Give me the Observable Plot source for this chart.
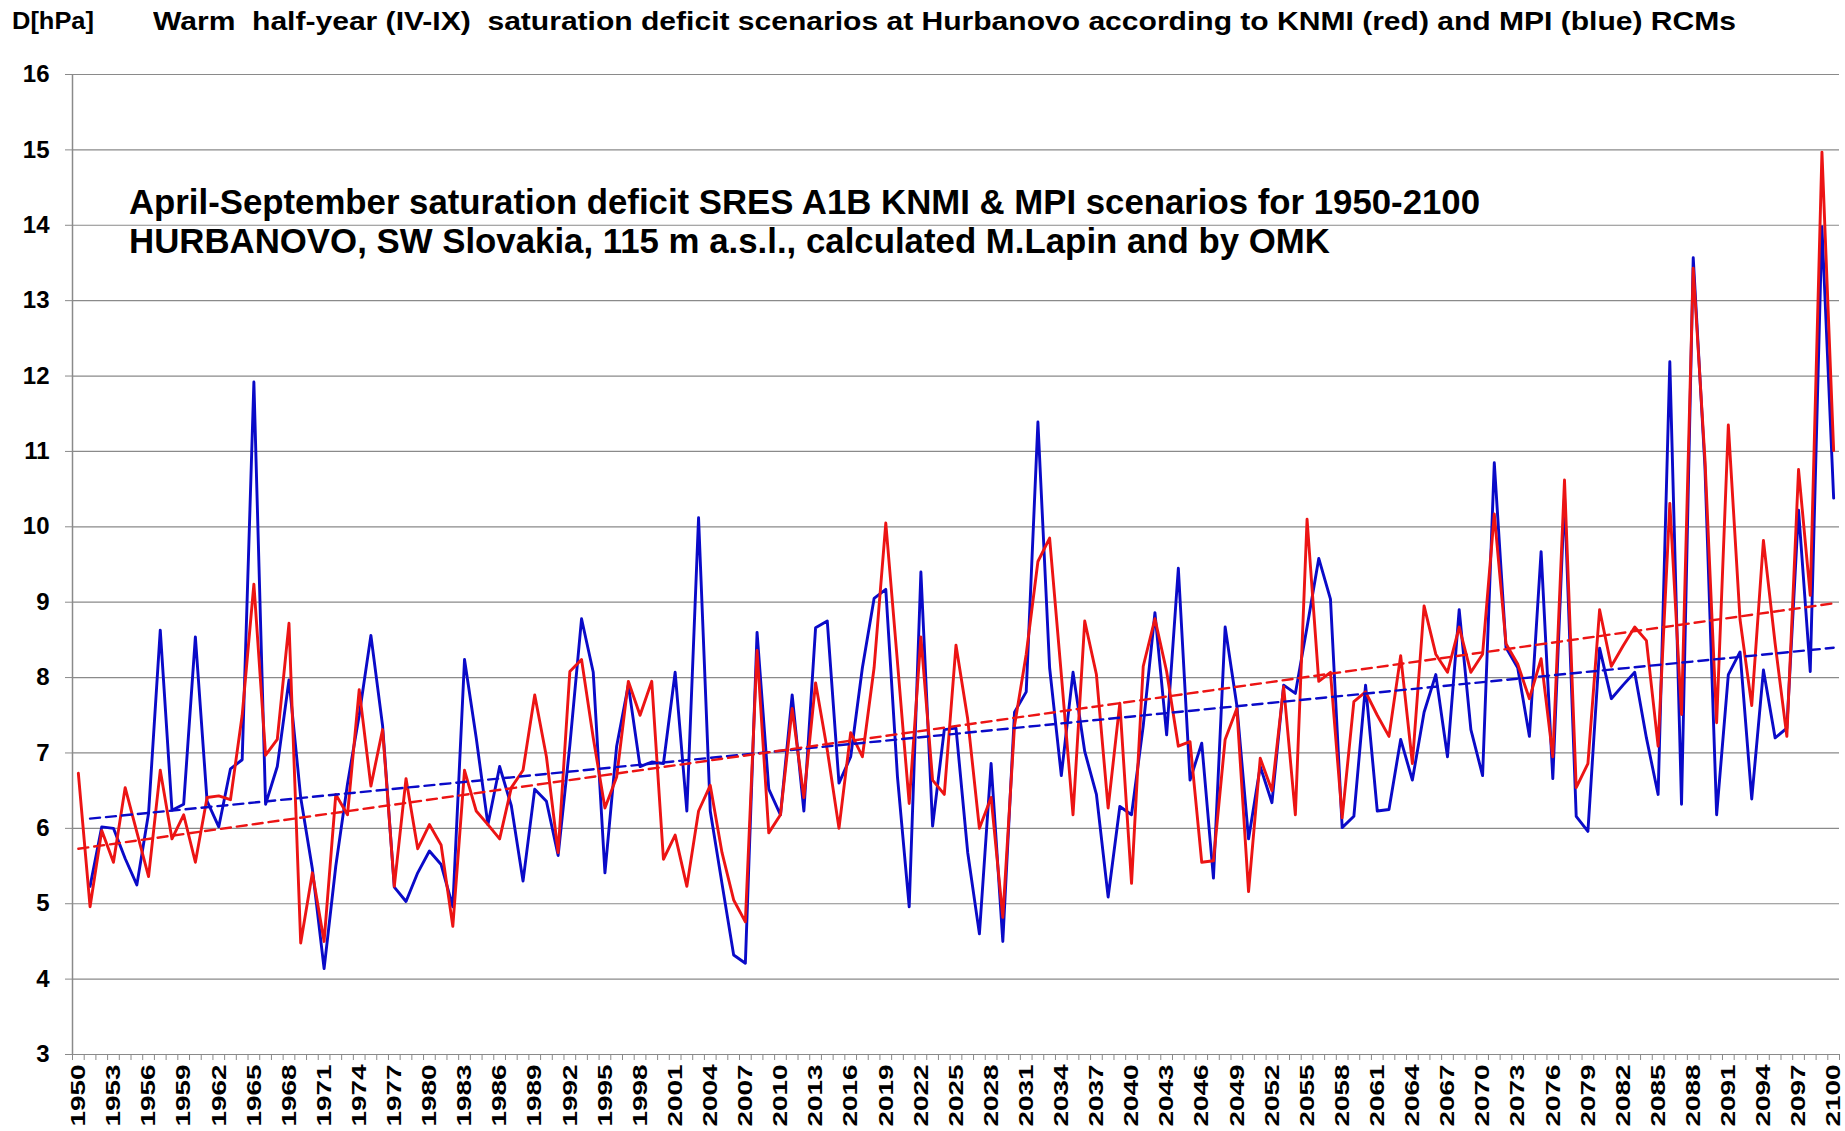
<!DOCTYPE html>
<html><head><meta charset="utf-8">
<script src="https://cdn.jsdelivr.net/npm/d3@7"></script>
<script src="https://cdn.jsdelivr.net/npm/@observablehq/plot@0.6"></script>
<style>
body{margin:0;background:#fff;}
#wrap{position:relative;width:1845px;height:1131px;overflow:hidden;font-family:"Liberation Sans",Arial,sans-serif;background:#fff;}
#chart{position:absolute;left:0;top:0;}
.t{position:absolute;white-space:pre;font-weight:bold;color:#000;transform-origin:0 50%;line-height:1;font-family:"Liberation Sans",Arial,sans-serif;}
</style></head><body>
<div id="wrap">
  <div id="chart"></div>
  <div class="t" id="ylab" style="left:12px;top:9px;font-size:24px">D[hPa]</div>
  <div class="t" id="title" style="left:153px;top:9px;font-size:25px">Warm  half-year (IV-IX)  saturation deficit scenarios at Hurbanovo according to KNMI (red) and MPI (blue) RCMs</div>
  <div class="t" id="note1" style="left:129px;top:184px;font-size:35px">April-September saturation deficit SRES A1B KNMI &amp; MPI scenarios for 1950-2100</div>
  <div class="t" id="note2" style="left:129px;top:223px;font-size:35px">HURBANOVO, SW Slovakia, 115 m a.s.l., calculated M.Lapin and by OMK</div>
</div>
<script>
const years = d3.range(1950, 2101);
const knmi = [
6.73,4.96,5.97,5.55,6.54,5.95,5.36,6.77,5.86,6.18,
5.55,6.41,6.43,6.38,7.50,9.24,6.97,7.18,8.72,4.48,
5.41,4.50,6.45,6.18,7.84,6.56,7.31,5.23,6.66,5.73,
6.05,5.78,4.70,6.77,6.23,6.05,5.86,6.54,6.77,7.77,
6.95,5.68,8.08,8.24,7.20,6.27,6.68,7.95,7.50,7.95,
5.59,5.91,5.23,6.23,6.57,5.68,5.05,4.76,8.36,5.94,
6.18,7.59,6.41,7.93,7.04,6.00,7.27,6.95,8.13,10.05,
8.20,6.33,8.54,6.64,6.45,8.43,7.45,6.00,6.41,4.82,
7.36,8.31,9.54,9.85,8.04,6.18,8.75,8.04,6.27,7.66,
5.27,8.15,8.78,8.08,7.09,7.15,5.55,5.57,7.18,7.59,
5.16,6.93,6.50,7.88,6.18,10.10,7.95,8.07,6.14,7.68,
7.81,7.50,7.22,8.29,6.86,8.95,8.31,8.07,8.67,8.07,
8.31,10.17,8.45,8.18,7.72,8.25,6.95,10.62,6.54,6.86,
8.90,8.15,8.42,8.67,8.49,7.09,10.31,7.51,13.43,10.90,
7.40,11.35,8.77,7.63,9.82,8.45,7.22,10.76,9.09,14.97,
11.01];
const mpi = [
null,5.23,6.02,6.00,5.60,5.25,6.20,8.63,6.24,6.32,
8.54,6.36,6.02,6.79,6.91,11.92,6.32,6.82,7.97,6.41,
5.46,4.14,5.50,6.59,7.50,8.56,7.36,5.22,5.03,5.41,
5.70,5.52,4.96,8.24,7.20,6.05,6.82,6.30,5.30,6.52,
6.36,5.64,7.10,8.78,8.07,5.41,7.09,7.90,6.82,6.88,
6.86,8.07,6.23,10.12,6.23,5.27,4.32,4.21,8.60,6.52,
6.18,7.77,6.23,8.66,8.75,6.60,6.95,8.13,9.05,9.17,
6.68,4.96,9.40,6.03,7.31,7.33,5.68,4.60,6.86,4.50,
7.54,7.81,11.39,8.13,6.70,8.07,7.02,6.45,5.09,6.29,
6.18,7.36,8.86,7.24,9.45,6.64,7.13,5.34,8.67,7.63,
5.86,6.82,6.34,7.90,7.79,8.67,9.58,9.04,6.01,6.16,
7.90,6.23,6.25,7.18,6.64,7.54,8.04,6.95,8.90,7.31,
6.70,10.85,8.40,8.13,7.22,9.67,6.66,10.40,6.16,5.96,
8.39,7.72,7.90,8.07,7.20,6.45,12.19,6.32,13.57,10.80,
6.18,8.04,8.34,6.39,8.10,7.20,7.33,10.22,8.08,13.98,
10.38];
const yTicks = d3.range(3, 17);
const xLabelYears = d3.range(1950, 2101, 3);
const xBounds = d3.range(1949.5, 2101, 1);

const red = "#ec1414";
const blue = "#0a0ac8";
const grid = "#8a8a8a";

const knmiData = years.map((year, i) => ({year, value: knmi[i]}));
const mpiData = years.map((year, i) => ({year, value: mpi[i]}));
const mpiValid = mpiData.filter(d => d.value != null);

const chart = Plot.plot({
  width: 1845,
  height: 1131,
  marginLeft: 72,
  marginRight: 6,
  marginTop: 74,
  marginBottom: 77,
  style: {fontFamily: "'Liberation Sans', Arial, sans-serif", background: "#fff", color: "#000"},
  x: {domain: [1949.5, 2100.5]},
  y: {domain: [3, 16]},
  marks: [
    Plot.gridY(yTicks, {stroke: grid, strokeOpacity: 1, strokeWidth: 1.2}),
    Plot.ruleX([1949.5], {stroke: grid, strokeWidth: 1.5}),
    Plot.axisY({ticks: yTicks, tickSize: 7, tickPadding: 16, fontSize: 24, fontWeight: "bold", stroke: grid, fill: "#000", label: null}),
    Plot.axisX({ticks: xBounds, tickSize: 6, tickFormat: () => "", stroke: grid, label: null}),
    Plot.axisX({ticks: xLabelYears, tickSize: 0, tickPadding: 10, tickRotate: -90, tickFormat: d => String(d), fontSize: 21, fontWeight: "bold", fill: "#000", label: null}),
    Plot.lineY(mpiData, {x: "year", y: "value", stroke: blue, strokeWidth: 2.9, strokeLinejoin: "round"}),
    Plot.lineY(knmiData, {x: "year", y: "value", stroke: red, strokeWidth: 2.9, strokeLinejoin: "round"}),
    Plot.linearRegressionY(mpiValid, {x: "year", y: "value", stroke: blue, strokeWidth: 2.4, strokeDasharray: "10,6", ci: 0}),
    Plot.linearRegressionY(knmiData, {x: "year", y: "value", stroke: red, strokeWidth: 2.4, strokeDasharray: "10,6", ci: 0})
  ]
});
document.getElementById("chart").appendChild(chart);

// stretch the rotated year labels along their length, like the reference
chart.querySelectorAll("text").forEach(t => {
  if (/^\d{4}$/.test(t.textContent.trim())) {
    t.style.fontSize = "21px";
    t.style.fontWeight = "bold";
    const tr = t.getAttribute("transform") || "";
    t.setAttribute("transform", tr + " scale(1.33,1)");
  }
});

function fit(id, targetW) {
  const el = document.getElementById(id);
  const w = el.getBoundingClientRect().width;
  el.style.transform = `scaleX(${targetW / w})`;
}
fit("ylab", 82);
fit("title", 1583);
fit("note1", 1351);
fit("note2", 1201);
</script>
</body></html>
